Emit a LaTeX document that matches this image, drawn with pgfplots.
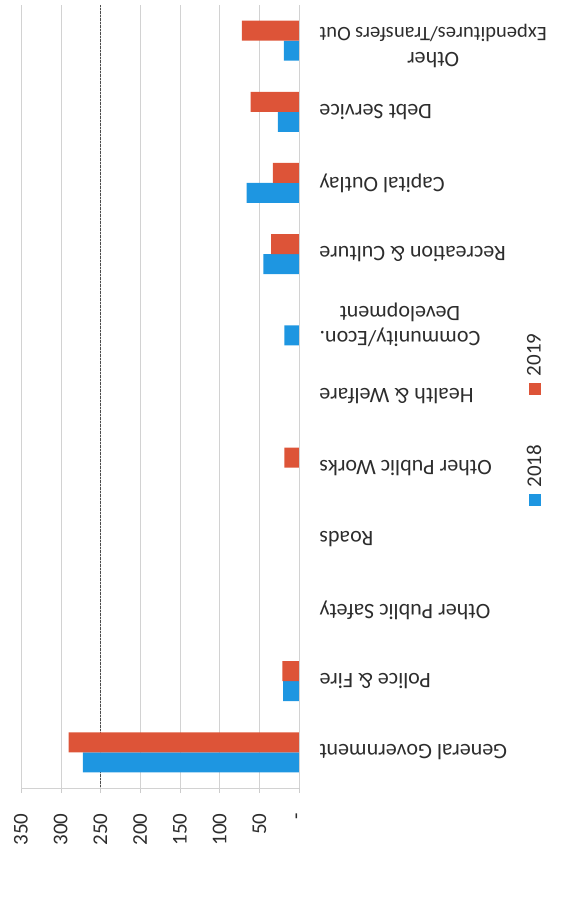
\documentclass[border=0pt]{standalone}
\usepackage{pgfplots}
\pgfplotsset{compat=1.18}
\usepackage{fontspec}
\setmainfont{Carlito}
\definecolor{c2018}{RGB}{30,150,225}
\definecolor{c2019}{RGB}{221,84,56}
\definecolor{txt}{RGB}{45,45,45}
\begin{document}
\begin{tikzpicture}
\begin{axis}[
  scale only axis,
  width=278pt, height=783pt,
  xbar,
  bar width=20pt,
  x dir=reverse,
  xmin=0, xmax=350,
  ymin=-0.5, ymax=10.5,
  xtick={0,50,100,150,200,250,300,350},
  xticklabels={-,50,100,150,200,250,300,350},
  ytick={0,1,2,3,4,5,6,7,8,9,10},
  yticklabels={General Government,Police \& Fire,Other Public Safety,Roads,Other Public Works,Health \& Welfare,{Community/Econ.\\Development},Recreation \& Culture,Capital Outlay,Debt Service,{Other\\{\fontsize{20.5}{25}\selectfont Expenditures/Transfers Out}\\[-11pt]\mbox{}}},
  axis x line*=bottom,
  axis y line*=right,
  axis line style={gray!35, thin},
  xmajorgrids,
  grid style={gray!35, thin},
  extra x ticks={250},
  extra x tick labels={},
  extra x tick style={grid style={black!70, densely dotted, thin}},
  tick align=outside,
  major tick length=5pt,
  x tick style={gray!40},
  y tick style={draw=none},
  xticklabel style={yshift=-17pt, rotate=90, anchor=east, font=\fontsize{21}{24}\selectfont, text=txt},
  yticklabel style={xshift=12pt, rotate=180, anchor=east, align=center, font=\fontsize{22}{25}\selectfont, text=txt},
  legend style={draw=none, at={(axis description cs:1.845,0.469)}, anchor=center, font=\fontsize{21}{24}\selectfont, text=txt,
    row sep=48pt, nodes={inner sep=0pt}},
  legend columns=1,
  reverse legend,
  legend image code/.code={},
]
% 2018 (zero-valued categories omitted: Other Public Safety, Roads, Other Public Works, Health & Welfare)
\addplot[fill=c2018, draw=none, bar shift=-10pt] coordinates {
  (272,0) (20,1) (18.5,6) (45,7) (66,8) (26.5,9) (19,10)};
\addlegendentry{\rotatebox{90}{\textcolor{c2018}{\rule{12pt}{12pt}}\hspace{7pt}2018}}
% 2019 (zero-valued: Other Public Safety, Roads, Health & Welfare, Community/Econ. Development)
\addplot[fill=c2019, draw=none, bar shift=10pt] coordinates {
  (290,0) (21,1) (18.5,4) (35,7) (33,8) (61,9) (72,10)};
\addlegendentry{\rotatebox{90}{\textcolor{c2019}{\rule{12pt}{12pt}}\hspace{7pt}2019}}
\end{axis}
\pgfresetboundingbox
\useasboundingbox (-21pt,-115pt) rectangle (555pt,788pt);
\end{tikzpicture}
\end{document}
